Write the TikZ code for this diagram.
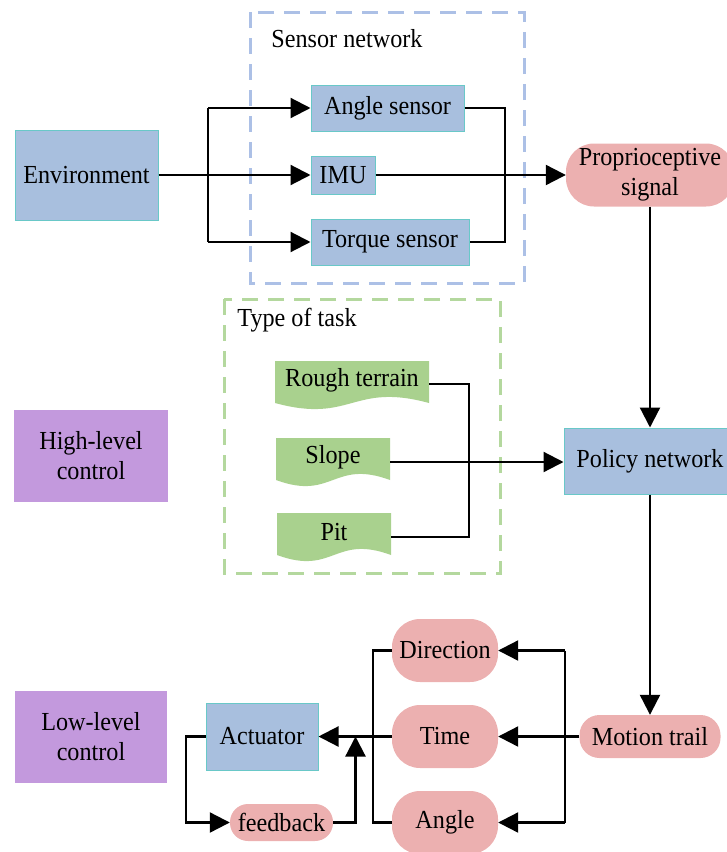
\documentclass[tikz,border=0pt]{standalone}
\usepackage{fontspec}
\setmainfont{Liberation Serif}[FakeStretch=0.93]
\usetikzlibrary{arrows.meta,calc,backgrounds}
\definecolor{nodeblue}{RGB}{168,191,222}
\definecolor{tealb}{RGB}{105,200,200}
\definecolor{pinkc}{RGB}{236,176,176}
\definecolor{purplec}{RGB}{195,153,221}
\definecolor{greenc}{RGB}{169,209,142}
\definecolor{dashblue}{RGB}{172,192,230}
\definecolor{dashgreen}{RGB}{180,216,158}
\newcommand\docfill[2]{% name, width
  \begin{pgfonlayer}{background}
  \fill[greenc] ($(#1.center)+(-#2/2,-19)$) -- ($(#1.center)+(#2/2,-19)$) -- ($(#1.center)+(#2/2,23)$)
    .. controls +(-#2/2,-21) and +(#2/2,21) .. ($(#1.center)+(-#2/2,23)$) -- cycle;
  \end{pgfonlayer}}
\begin{document}
\begin{tikzpicture}[x=1pt,y=-1pt,
  every node/.style={font=\fontsize{26}{30}\selectfont, inner sep=0pt, align=center},
  bluebox/.style={draw=tealb, line width=1pt, fill=nodeblue},
  pinkbox/.style={fill=pinkc, rounded corners=#1},
  pinkbox/.default=26pt,
  purplebox/.style={fill=purplec},
  ln/.style={line width=2.2pt},
  arr/.style={line width=2.2pt, -{Triangle[length=20pt,width=20pt]}},
  dashbox/.style={line width=3pt, dash pattern=on 16pt off 10pt}
]
\useasboundingbox (0,0) rectangle (727,852);
\begin{scope}
\clip (0,0) rectangle (727,852);
% dashed groups
\draw[dashbox, dashblue] (250,12) rectangle (524,283);
\node[anchor=center] (sntitle) at (347,39) {Sensor network};
\draw[dashbox, dashgreen] (224,299) rectangle (500,573);
\node[anchor=center] (tttitle) at (297,320) {Type of task};

% nodes
\node[bluebox, minimum width=143pt, minimum height=90pt] (env) at (86.5,175) {Environment};
\node[bluebox, minimum width=153pt, minimum height=46pt] (angs) at (387.5,108) {Angle sensor};
\node[bluebox, minimum width=64pt, minimum height=38pt] (imu) at (343,175) {IMU};
\node[bluebox, minimum width=158pt, minimum height=46pt] (tors) at (390,242) {Torque sensor};
\node[pinkbox=28pt, minimum width=168pt, minimum height=63pt] (prop) at (650,175) {Proprioceptive\\signal};
\node[bluebox, minimum width=172pt, minimum height=66pt] (pol) at (650,461) {Policy network};
\node[purplebox, minimum width=154pt, minimum height=92pt] (high) at (91,456) {High-level\\control};
\node[purplebox, minimum width=152pt, minimum height=92pt] (low) at (91,737) {Low-level\\control};

\node[minimum width=154pt] (rough) at (352,380) {Rough terrain};
\node[minimum width=114pt] (slope) at (333,457) {Slope};
\node[minimum width=114pt] (pit) at (334,532) {Pit};
\docfill{rough}{154}
\docfill{slope}{114}
\docfill{pit}{114}

\node[pinkbox=20pt, minimum width=141pt, minimum height=43pt] (mot) at (650,736.5) {Motion trail};
\node[pinkbox=28pt, minimum width=106pt, minimum height=63pt] (dir) at (445,650.5) {Direction};
\node[pinkbox=28pt, minimum width=106pt, minimum height=63pt] (time) at (445,736.5) {Time};
\node[pinkbox=28pt, minimum width=106pt, minimum height=63pt] (ang) at (445,822.5) {Angle};
\node[bluebox, minimum width=112pt, minimum height=67pt] (act) at (262,736.5) {Actuator};
\node[pinkbox=18pt, minimum width=103pt, minimum height=37pt] (fb) at (281.5,822.5) {feedback};

% connectors: sensors
\coordinate (bx) at (208,0);
\coordinate (mx) at (505,0);
\draw[arr] (env.east) -- (imu.west);
\draw[ln] (angs.west -| bx) -- (tors.west -| bx);
\draw[arr] (angs.west -| bx) -- (angs.west);
\draw[arr] (tors.west -| bx) -- (tors.west);
\draw[ln] (angs.east) -- (angs.east -| mx) -- (tors.east -| mx) -- (tors.east);
\draw[arr] (imu.east) -- (prop.west);
\draw[arr] (prop.south) -- (pol.north);

% tasks
\coordinate (tx) at (469,0);
\draw[ln] ($(rough.east)+(0,4)$) -- ($(rough.east -| tx)+(0,4)$) -- ($(pit.east -| tx)+(0,5)$) -- ($(pit.east)+(0,5)$);
\draw[arr] ($(slope.east)+(0,5)$) -- ($(slope.east -| pol.west)+(0,5)$);

% low level
\draw[arr] (pol.south) -- (mot.north);
\coordinate (rx) at (565,0);
\coordinate (lx) at (373,0);
\draw[arr] (mot.west) -- (time.east);
\draw[ln] (dir.east -| rx) -- (ang.east -| rx);
\draw[arr] (dir.east -| rx) -- (dir.east);
\draw[arr] (ang.east -| rx) -- (ang.east);
\draw[ln] (dir.west) -- (dir.west -| lx) -- (ang.west -| lx) -- (ang.west);
\draw[arr] (time.west) -- (act.east);
\coordinate (fx) at (186,0);
\coordinate (ux) at (355.5,0);
\draw[arr] (act.west) -- (act.west -| fx) -- (fb.west -| fx) -- (fb.west);
\draw[arr] (fb.east) -- (fb.east -| ux) -- (act.east -| ux);
\end{scope}
\end{tikzpicture}
\end{document}
